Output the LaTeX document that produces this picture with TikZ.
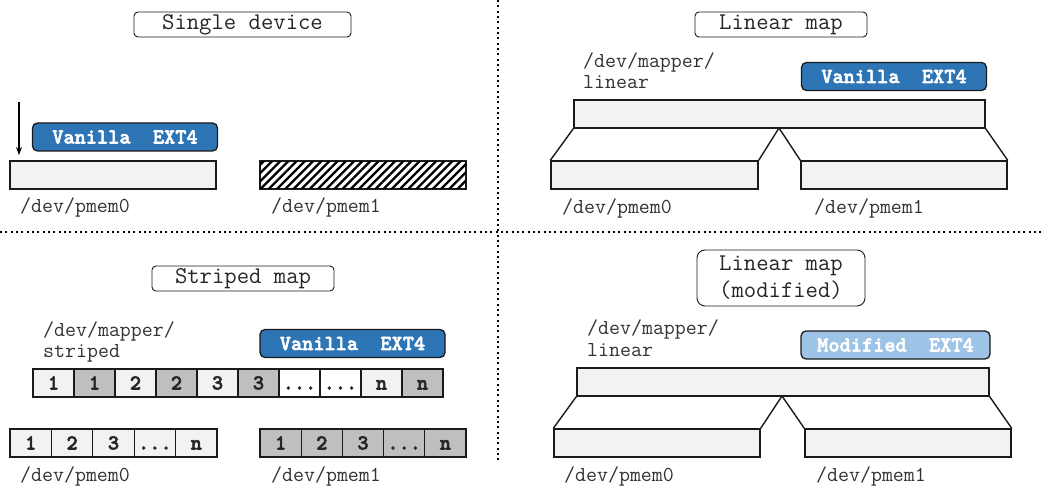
\documentclass[tikz,border=0pt]{standalone}
\usepackage{fontspec}
\newfontfamily\ttbold{lmmonolt10-bold}[Extension=.otf, FakeBold=2.5]
\usetikzlibrary{calc,arrows.meta}

\definecolor{fsblue}{HTML}{2E75B6}
\definecolor{fslight}{HTML}{9DC3E6}
\definecolor{cellgray}{HTML}{BFBFBF}
\definecolor{devfill}{HTML}{F2F2F2}
\definecolor{edge}{HTML}{1A1A1A}

\newcommand\celldots{...}
\newcommand\labfont{\ttfamily\fontsize{21.3}{23}\selectfont}
\newcommand\boldfont{\ttbold\fontsize{21.3}{23}\selectfont}
\newcommand\titlefont{\ttfamily\fontsize{24}{27}\selectfont}

\tikzset{
  panel title/.style={draw=edge, line width=0.9pt, rounded corners=4pt, fill=white,
    inner sep=0pt, font=\titlefont, text=black!85},
  fsbox/.style={draw=edge, line width=1.3pt, rounded corners=5pt, inner sep=0pt,
    minimum width=185pt, minimum height=28pt, font=\boldfont, text=white,
    text height=13pt, text depth=0pt},
  devbox/.style={draw=edge, line width=1.4pt, fill=devfill, inner sep=0pt,
    minimum width=206pt, minimum height=28pt},
  cell/.style={draw=edge, line width=1.2pt, inner sep=0pt, minimum height=28pt,
    font=\boldfont, text=black!85, text height=13pt, text depth=0pt},
  lab/.style={inner sep=0pt, anchor=base west, font=\labfont, text=black!80},
  maplink/.style={draw=edge, line width=1.4pt},
  separator/.style={line width=2pt, dash pattern=on 2pt off 3.33pt},
}

\begin{document}
\begin{tikzpicture}[x=1pt,y=-1pt]
\useasboundingbox[fill=white] (0,0) rectangle (1042,486);

% ---------- separators ----------
\coordinate (vtop) at (498,0);
\coordinate (vbot) at (498,460);
\coordinate (hl) at (0,232);
\coordinate (hr) at (1042,232);
\draw[separator] (vtop) -- (vbot);
\draw[separator] (hl) -- (hr);

% ---------- single device ----------
\node[panel title, minimum width=217pt, minimum height=25pt] (t1) at (242.5,24.5) {Single device};
\node[fsbox, fill=fsblue] (fs1) at (125,137) {Vanilla\ \ EXT4};
\node[devbox] (d1a) at (113,175) {};
\node[devbox, fill=white] (d1b) at (363,175) {};
\begin{scope}
  \clip (d1b.south west) rectangle (d1b.north east);
  \foreach \i in {0,...,30}
    \draw[line width=2.3pt] ({230+8.2*\i},195) -- ++(40,-40);
\end{scope}
\draw[edge, line width=1.4pt] (d1b.south west) rectangle (d1b.north east);
\coordinate (arrT) at (19,102);
\coordinate (arrB) at (19,155);
\draw[line width=1.1pt, -{Stealth[length=8pt,width=6pt]}] (arrT) -- (arrB);
\node[lab] (l1a) at (20,213) {/dev/pmem0};
\node[lab] (l1b) at (271,213) {/dev/pmem1};

% ---------- linear map ----------
\node[panel title, minimum width=172pt, minimum height=25pt] (t2) at (781,24.5) {Linear map};
\node[lab] (m2a) at (583,68) {/dev/mapper/};
\node[lab] (m2b) at (583,89) {linear};
\node[fsbox, fill=fsblue] (fs2) at (894,76.5) {Vanilla\ \ EXT4};
\node[devbox, minimum width=411pt] (big2) at (779.5,114) {};
\node[devbox, minimum width=207pt] (d2a) at (654.5,175) {};
\node[devbox, minimum width=206pt] (d2b) at (904,175) {};
\coordinate (ap2) at (779,128);
\draw[maplink, line join=round] (big2.south west) -- (d2a.north west);
\draw[maplink, line join=round] (d2a.north east) -- (ap2) -- (d2b.north west);
\draw[maplink, line join=round] (big2.south east) -- (d2b.north east);
\node[lab] (l2a) at (562,214) {/dev/pmem0};
\node[lab] (l2b) at (814,214) {/dev/pmem1};

% ---------- striped map ----------
\node[panel title, minimum width=182pt, minimum height=25pt] (t3) at (243,278.5) {Striped map};
\node[lab] (m3a) at (43,337) {/dev/mapper/};
\node[lab] (m3b) at (43,358) {striped};
\node[fsbox, fill=fsblue] (fs3) at (352.5,343.5) {Vanilla\ \ EXT4};
\foreach \i/\f/\t in {0/devfill/1, 1/cellgray/1, 2/devfill/2, 3/cellgray/2,
                      4/devfill/3, 5/cellgray/3, 6/white/\celldots, 7/white/\celldots,
                      8/devfill/n, 9/cellgray/n}
  \node[cell, fill=\f, minimum width=41pt] (s\i) at ({53.5+41*\i},383) {\t};
\foreach \i/\t in {0/1, 1/2, 2/3, 3/\celldots, 4/n}
  \node[cell, fill=devfill, minimum width=41.4pt] (p\i) at ({30.7+41.4*\i},443) {\t};
\foreach \i/\t in {0/1, 1/2, 2/3, 3/\celldots, 4/n}
  \node[cell, fill=cellgray, minimum width=41.2pt] (q\i) at ({280.6+41.2*\i},443) {\t};
\node[lab] (l3a) at (20,481) {/dev/pmem0};
\node[lab] (l3b) at (271,481) {/dev/pmem1};

% ---------- linear map (modified) ----------
\node[panel title, rounded corners=8pt, align=center, minimum width=168pt, minimum height=56pt,
      font=\titlefont] (t4) at (781,278) {Linear map\\(modified)};
\node[lab] (m4a) at (587,335) {/dev/mapper/};
\node[lab] (m4b) at (587,357) {linear};
\node[fsbox, fill=fslight, minimum width=189pt] (fs4) at (895.5,345) {Modified\ \ EXT4};
\node[devbox, minimum width=412pt] (big4) at (783,382) {};
\node[devbox, minimum width=206pt] (d4a) at (657,443) {};
\node[devbox, minimum width=206pt] (d4b) at (908,443) {};
\coordinate (ap4) at (782,396);
\draw[maplink, line join=round] (big4.south west) -- (d4a.north west);
\draw[maplink, line join=round] (d4a.north east) -- (ap4) -- (d4b.north west);
\draw[maplink, line join=round] (big4.south east) -- (d4b.north east);
\node[lab] (l4a) at (564,481) {/dev/pmem0};
\node[lab] (l4b) at (816,481) {/dev/pmem1};
\end{tikzpicture}
\end{document}
